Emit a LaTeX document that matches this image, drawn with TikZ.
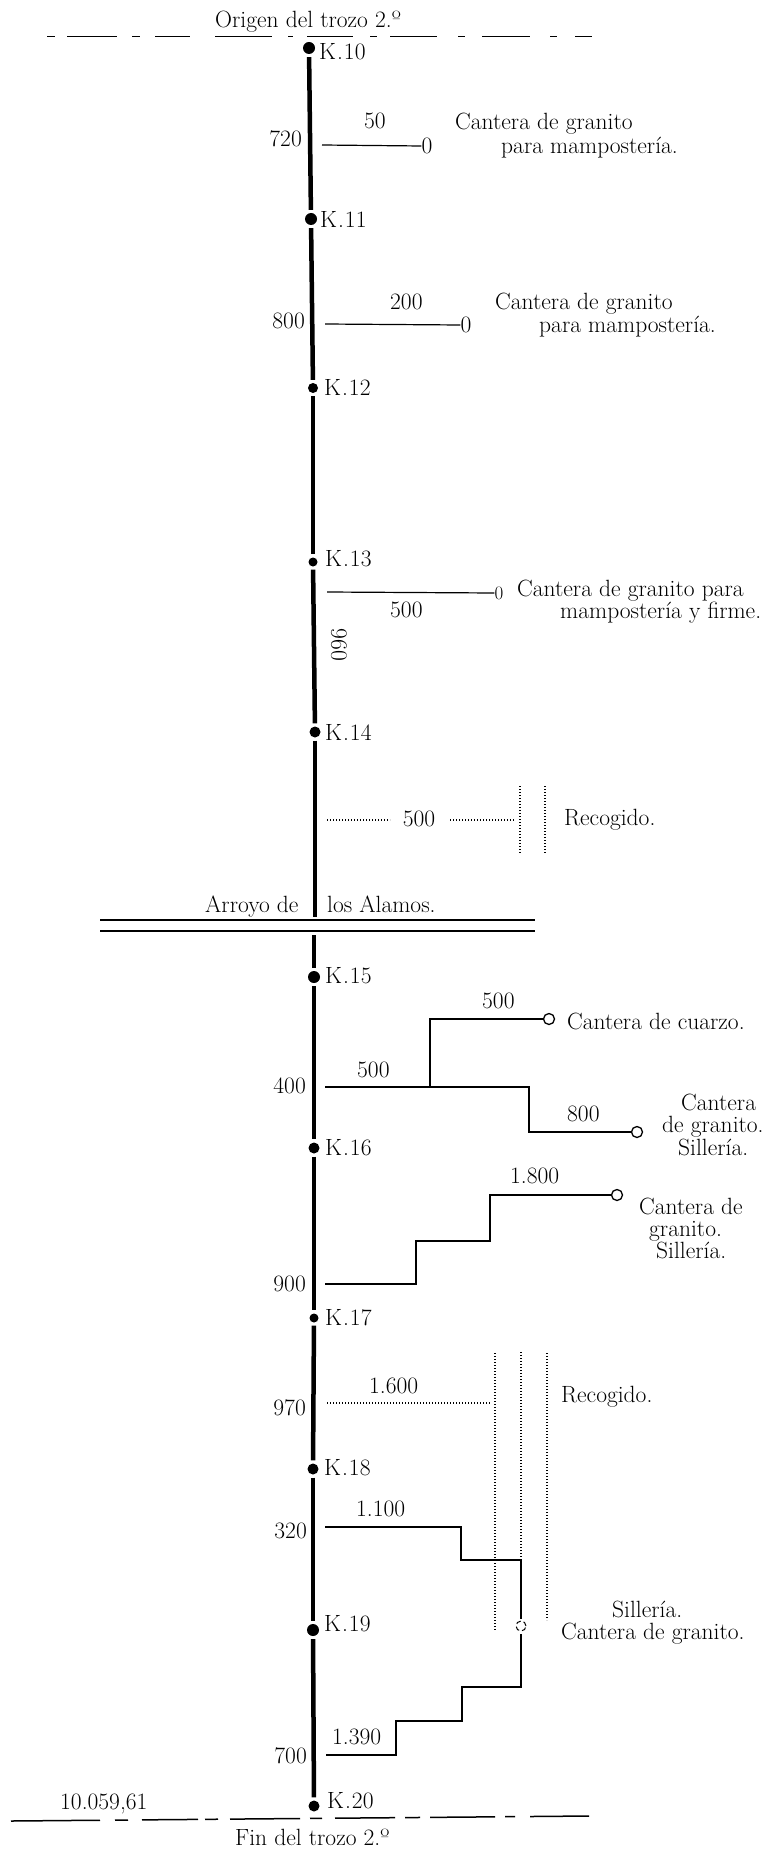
\documentclass[tikz,border=0pt]{standalone}
\usepackage{fontspec}
\begin{document}
\begin{tikzpicture}[x=1pt,y=-1pt,
  txt/.style={font=\fontsize{23.5}{24}\selectfont, inner sep=0pt},
  kdot/.style={circle, fill=black, inner sep=0pt, minimum size=11pt},
  road/.style={line width=4.5pt, shorten >=3pt, shorten <=3pt},
  branch/.style={line width=1.2pt},
  dotline/.style={line width=1.2pt, dash pattern=on 1.3pt off 1.7pt},
  cut/.style={line width=1.5pt},
  qmark/.style={circle, draw, line width=1.3pt, inner sep=0pt, minimum size=11pt},
  zero/.style={font=\fontsize{23.5}{24}\selectfont, inner sep=0pt}]
\fill[white] (0,0) rectangle (783,1851);
\useasboundingbox (0,0) rectangle (783,1851);

% ---- boundary lines ----
\foreach \a/\b in {47/55, 67/117, 132/140, 155/190, 215/272, 288/293, 307/353, 370/377, 390/437, 458/465, 482/530, 550/557, 575/592}
  \draw[cut] (\a,36.5) -- (\b,36.5);
\foreach \a/\b in {11/100, 115/128, 142/198, 205/218, 230/300, 310/322, 335/395, 405/420, 430/495, 505/515, 530/589}
  \draw[cut] (\a,{1821-(\a-11)*5/578}) -- (\b,{1821-(\b-11)*5/578});
\node[txt, anchor=base west] (origen) at (215,28) {Origen del trozo 2.º};
\node[txt, anchor=base west] (fin) at (235,1845) {Fin del trozo 2.º};
\node[txt, anchor=base west] (total) at (60,1809) {10.059,61};

% ---- river ----
\coordinate (rA1) at (100,920); \coordinate (rA2) at (535,920);
\coordinate (rB1) at (100,931); \coordinate (rB2) at (535,931);
\draw[branch] (rA1) -- (rA2);
\draw[branch] (rB1) -- (rB2);
\node[txt, anchor=base west] (arroyo1) at (205,912) {Arroyo de};
\node[txt, anchor=base west] (arroyo2) at (327,912) {los Alamos.};

% ---- kilometre points ----
\node[kdot, minimum size=12pt] (K10) at (309,48) {};
\node[kdot, minimum size=12pt] (K11) at (311,219) {};
\node[kdot, minimum size=10pt] (K12) at (313,388) {};
\node[kdot, minimum size=9pt]  (K13) at (313,562) {};
\node[kdot, minimum size=11pt] (K14) at (315,732) {};
\node[kdot, minimum size=12pt] (K15) at (314,977) {};
\node[kdot, minimum size=11pt] (K16) at (314,1148) {};
\node[kdot, minimum size=9pt]  (K17) at (314,1318) {};
\node[kdot, minimum size=11pt] (K18) at (313,1469) {};
\node[kdot, minimum size=12pt] (K19) at (313,1630) {};
\node[kdot, minimum size=11pt] (K20) at (314,1806) {};
\coordinate (rivtop) at (315,917);
\coordinate (rivbot) at (314,935);

\draw[road] (K10) -- (K11);
\draw[road] (K11) -- (K12);
\draw[road] (K12) -- (K13);
\draw[road] (K13) -- (K14);
\draw[road, shorten >=0pt] (K14) -- (rivtop);
\draw[road, shorten <=0pt] (rivbot) -- (K15);
\draw[road] (K15) -- (K16);
\draw[road] (K16) -- (K17);
\draw[road] (K17) -- (K18);
\draw[road] (K18) -- (K19);
\draw[road] (K19) -- (K20);

\node[txt, anchor=base west] (L10) at (319,60)   {K\kern1pt.\kern1pt10};
\node[txt, anchor=base west] (L11) at (320,228)  {K\kern1pt.\kern1pt11};
\node[txt, anchor=base west] (L12) at (324,395)  {K\kern1pt.\kern1pt12};
\node[txt, anchor=base west] (L13) at (325,566)  {K\kern1pt.\kern1pt13};
\node[txt, anchor=base west] (L14) at (325,740)  {K\kern1pt.\kern1pt14};
\node[txt, anchor=base west] (L15) at (325,983)  {K\kern1pt.\kern1pt15};
\node[txt, anchor=base west] (L16) at (325,1155) {K\kern1pt.\kern1pt16};
\node[txt, anchor=base west] (L17) at (325,1325) {K\kern1pt.\kern1pt17};
\node[txt, anchor=base west] (L18) at (324,1475) {K\kern1pt.\kern1pt18};
\node[txt, anchor=base west] (L19) at (324,1631) {K\kern1pt.\kern1pt19};
\node[txt, anchor=base west] (L20) at (327,1808) {K\kern1pt.\kern1pt20};

% ---- branch 1 (720) ----
\node[txt, anchor=base east] (n720) at (302,147) {720};
\node[txt, anchor=base west] (n50) at (364,129) {50};
\coordinate (b1) at (322,145);
\node[zero] (q1) at (427,146) {0};
\draw[branch] (b1) -- (q1.west);
\node[txt, anchor=base west] (c1a) at (455,130) {Cantera de granito};
\node[txt, anchor=base west] (c1b) at (501,154) {para mampostería.};

% ---- branch 2 (800) ----
\node[txt, anchor=base east] (n800) at (305,329) {800};
\node[txt, anchor=base west] (n200) at (390,309) {200};
\coordinate (b2) at (325,324);
\node[zero] (q2) at (466,325) {0};
\draw[branch] (b2) -- (q2.west);
\node[txt, anchor=base west] (c2a) at (495,310) {Cantera de granito};
\node[txt, anchor=base west] (c2b) at (539,333) {para mampostería.};

% ---- branch 3 (960) ----
\coordinate (b3) at (327,592);
\node[zero, font=\fontsize{19}{19}\selectfont] (q3) at (499,593) {0};
\draw[branch] (b3) -- (q3.west);
\node[txt, anchor=base west] (n500a) at (390,617) {500};
\node[txt, rotate=-90] (n960) at (339,645) {960};
\node[txt, anchor=base west] (c3a) at (517,596) {Cantera de granito para};
\node[txt, anchor=base west] (c3b) at (560,618) {mampostería y firme.};

% ---- branch 4 (Recogido) ----
\coordinate (b4) at (327,820);
\coordinate (b4m) at (390,820);
\coordinate (b4n) at (450,820);
\coordinate (b4e) at (515,820);
\node[txt, anchor=base] (n500b) at (419,826) {500};
\draw[dotline] (b4) -- (b4m);
\draw[dotline] (b4n) -- (b4e);
\coordinate (v1t) at (520,786); \coordinate (v1b) at (520,853);
\coordinate (v2t) at (545,786); \coordinate (v2b) at (545,853);
\draw[dotline] (v1t) -- (v1b);
\draw[dotline] (v2t) -- (v2b);
\node[txt, anchor=base west] (rec1) at (564,825) {Recogido.};

% ---- branch 5 (400) ----
\node[txt, anchor=base east] (n400) at (306,1093) {400};
\node[txt, anchor=base west] (n500d) at (357,1077) {500};
\node[txt, anchor=base west] (n500c) at (482,1008) {500};
\node[txt, anchor=base west] (n800b) at (567,1121) {800};
\coordinate (b5) at (325,1087);
\coordinate (b5e) at (530,1087);
\coordinate (b5a) at (430,1087);
\coordinate (b5b) at (529,1087);
\node[qmark] (q4) at (549,1019) {};
\node[qmark] (q5) at (637,1132) {};
\draw[branch] (b5) -- (b5e);
\draw[branch] (b5a) |- (q4.west);
\draw[branch] (b5b) |- (q5.west);
\node[txt, anchor=base west] (cuarzo) at (567,1029) {Cantera de cuarzo.};
\node[txt, anchor=base west] (c5a) at (681,1110) {Cantera};
\node[txt, anchor=base west] (c5b) at (662,1132) {de granito.};
\node[txt, anchor=base west] (c5c) at (678,1155) {Sillería.};

% ---- branch 6 (900) ----
\node[txt, anchor=base east] (n900) at (306,1291) {900};
\node[txt, anchor=base west] (n1800) at (510,1183) {1.800};
\coordinate (b6) at (325,1284);
\node[qmark] (q6) at (617,1195) {};
\draw[branch] (b6) -| (416,1241) -| (490,1195) -- (q6.west);
\node[txt, anchor=base west] (c6a) at (639,1214) {Cantera de};
\node[txt, anchor=base west] (c6b) at (649,1236) {granito.};
\node[txt, anchor=base west] (c6c) at (656,1258) {Sillería.};

% ---- branch 7 (970, Recogido) ----
\node[txt, anchor=base east] (n970) at (306,1415) {970};
\node[txt, anchor=base west] (n1600) at (369,1393) {1.600};
\coordinate (b7) at (327,1403);
\coordinate (b7e) at (490,1403);
\draw[dotline] (b7) -- (b7e);
\coordinate (w1t) at (495,1353); \coordinate (w1b) at (495,1630);
\coordinate (w2t) at (521,1352); \coordinate (w2b) at (521,1557);
\coordinate (w3t) at (547,1353); \coordinate (w3b) at (547,1620);
\draw[dotline] (w1t) -- (w1b);
\draw[dotline] (w2t) -- (w2b);
\draw[dotline] (w3t) -- (w3b);
\node[txt, anchor=base west] (rec2) at (561,1402) {Recogido.};

% ---- branches 8 and 9 (320, 700) ----
\node[txt, anchor=base east] (n320) at (307,1538) {320};
\node[txt, anchor=base west] (n1100) at (356,1516) {1.100};
\node[txt, anchor=base east] (n700) at (307,1763) {700};
\node[txt, anchor=base west] (n1390) at (332,1744) {1.390};
\node[qmark, minimum size=10pt, line width=1pt, dash pattern=on 5pt off 3pt] (q7) at (521,1626) {};
\coordinate (b8) at (325,1527);
\coordinate (b9) at (326,1755);
\draw[branch, shorten >=2pt] (b8) -| (461,1560) -| (q7.north);
\draw[branch, shorten >=2pt] (b9) -| (396,1721) -| (462,1687) -| (q7.south);
\node[txt, anchor=base west] (s1) at (612,1617) {Sillería.};
\node[txt, anchor=base west] (s2) at (561,1639) {Cantera de granito.};
\end{tikzpicture}
\end{document}
